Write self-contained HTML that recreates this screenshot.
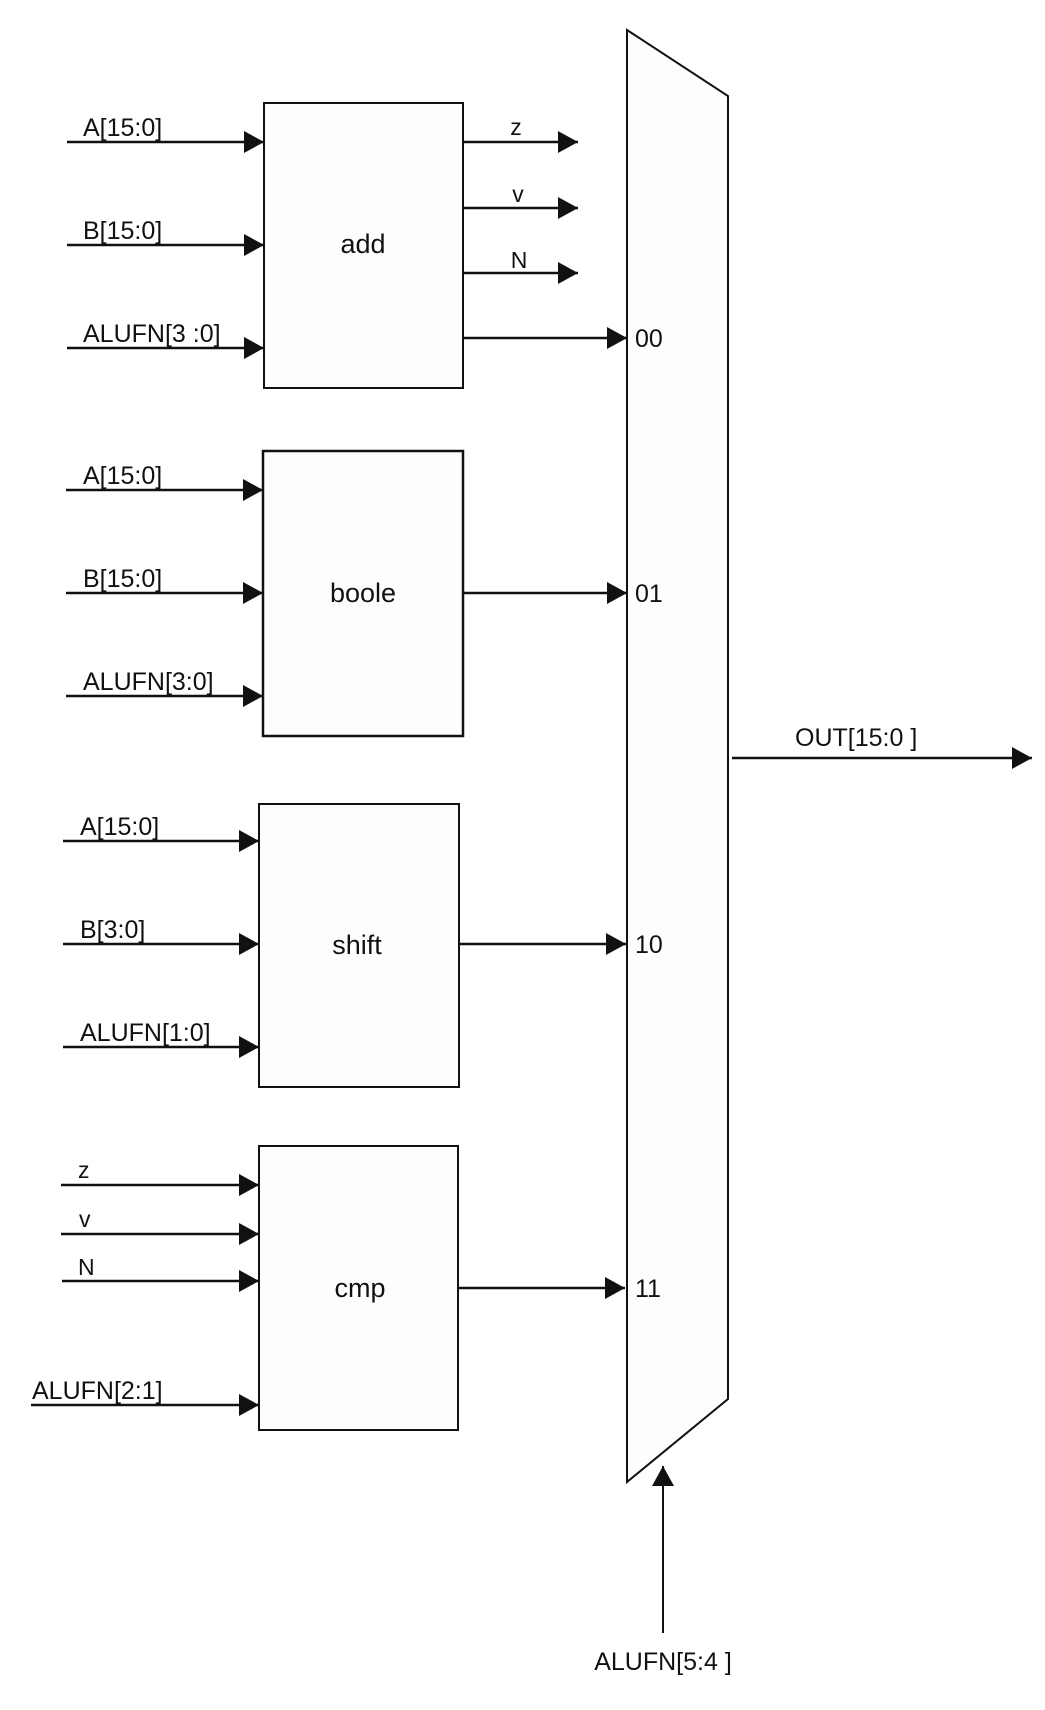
<!DOCTYPE html>
<html><head><meta charset="utf-8"><style>
html,body{margin:0;padding:0;background:#fff;}
svg{display:block;}
text{font-family:"Liberation Sans",sans-serif;fill:#111;}
</style></head><body>
<svg width="1045" height="1710" viewBox="0 0 1045 1710" xmlns="http://www.w3.org/2000/svg">
<defs>
<marker id="ah" markerWidth="20" markerHeight="22" refX="20" refY="11" orient="auto" markerUnits="userSpaceOnUse">
<path d="M0,0 L20,11 L0,22 Z" fill="#111"/>
</marker>
</defs>
<g transform="translate(-3,-2)">
<g stroke="#111" fill="#fdfdfd" stroke-width="2">
<polygon points="630,32 731,98 731,1401 630,1484"/>
<rect x="267" y="105" width="199" height="285"/>
<rect x="266" y="453" width="200" height="285" stroke-width="2.5"/>
<rect x="262" y="806" width="200" height="283"/>
<rect x="262" y="1148" width="199" height="284"/>
</g>
<g stroke="#111" stroke-width="2.5" marker-end="url(#ah)">
<line x1="70" y1="144" x2="267" y2="144"/>
<line x1="70" y1="247" x2="267" y2="247"/>
<line x1="70" y1="350" x2="267" y2="350"/>
<line x1="466" y1="144" x2="581" y2="144"/>
<line x1="466" y1="210" x2="581" y2="210"/>
<line x1="466" y1="275" x2="581" y2="275"/>
<line x1="466" y1="340" x2="630" y2="340"/>
<line x1="69" y1="492" x2="266" y2="492"/>
<line x1="69" y1="595" x2="266" y2="595"/>
<line x1="69" y1="698" x2="266" y2="698"/>
<line x1="466" y1="595" x2="630" y2="595"/>
<line x1="66" y1="843" x2="262" y2="843"/>
<line x1="66" y1="946" x2="262" y2="946"/>
<line x1="66" y1="1049" x2="262" y2="1049"/>
<line x1="462" y1="946" x2="629" y2="946"/>
<line x1="64" y1="1187" x2="262" y2="1187"/>
<line x1="64" y1="1236" x2="262" y2="1236"/>
<line x1="65" y1="1283" x2="262" y2="1283"/>
<line x1="34" y1="1407" x2="262" y2="1407"/>
<line x1="461" y1="1290" x2="628" y2="1290"/>
<line x1="735" y1="760" x2="1035" y2="760"/>
</g>
<line x1="666" y1="1635" x2="666" y2="1468" stroke="#111" stroke-width="2" marker-end="url(#ah)"/>
<g font-size="25">
<text x="86" y="138">A[15:0]</text>
<text x="86" y="241">B[15:0]</text>
<text x="86" y="344">ALUFN[3 :0]</text>
<text x="86" y="486">A[15:0]</text>
<text x="86" y="589">B[15:0]</text>
<text x="86" y="692">ALUFN[3:0]</text>
<text x="83" y="837">A[15:0]</text>
<text x="83" y="940">B[3:0]</text>
<text x="83" y="1043">ALUFN[1:0]</text>
<text x="35" y="1401">ALUFN[2:1]</text>
<text x="638" y="349">00</text>
<text x="638" y="604">01</text>
<text x="638" y="955">10</text>
<text x="638" y="1299">11</text>
<text x="798" y="748">OUT[15:0 ]</text>
<text x="666" y="1672" text-anchor="middle">ALUFN[5:4 ]</text>
<text x="366" y="255" text-anchor="middle" font-size="27">add</text>
<text x="366" y="604" text-anchor="middle" font-size="27">boole</text>
<text x="360" y="956" text-anchor="middle" font-size="27">shift</text>
<text x="363" y="1299" text-anchor="middle" font-size="27">cmp</text>
</g>
<g font-size="23">
<text x="519" y="137" text-anchor="middle">z</text>
<text x="521" y="204" text-anchor="middle">v</text>
<text x="522" y="270" text-anchor="middle">N</text>
<text x="81" y="1180">z</text>
<text x="82" y="1229">v</text>
<text x="81" y="1277">N</text>
</g>
</g>
</svg>
</body></html>
